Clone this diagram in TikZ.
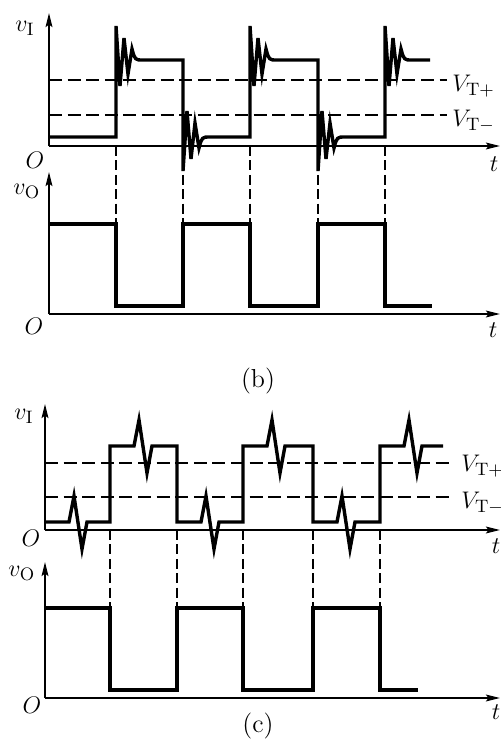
\documentclass[tikz,border=0pt]{standalone}
\usepackage{tikz}
\usetikzlibrary{arrows.meta}

\begin{document}
\begin{tikzpicture}[x=0.5pt, y=-0.5pt,
  axis/.style={line width=0.9pt, -{Stealth[length=7pt,width=3.4pt,inset=1.2pt]}},
  wave/.style={line width=1.7pt},
  level/.style={line width=0.9pt, dash pattern=on 6.5pt off 2.8pt},
  guide/.style={line width=0.6pt, dash pattern=on 5pt off 2.2pt},
  lbl/.style={inner sep=0pt, font=\fontsize{13}{15}\selectfont}
]
\useasboundingbox (0,0) rectangle (501,740);

% ---- (b): input with ringing ----
\coordinate (O1) at (49,146);
\coordinate (Y1) at (49,13);
\coordinate (X1) at (500,146);
\draw[axis] (O1) -- (Y1);
\draw[axis] (O1) -- (X1);
\coordinate (tp1) at (49,80);  \coordinate (tp1e) at (447,80);
\coordinate (tm1) at (49,115); \coordinate (tm1e) at (447,115);
\draw[level] (tp1) -- (tp1e);
\draw[level] (tm1) -- (tm1e);
\draw[wave] (49,137)
  \foreach \e/\a/\b/\s in {116/137/60/-1, 183/60/137/1, 250/137/60/-1, 318/60/137/1, 385/137/60/-1}{
    -- (\e,\a) -- (\e,{\b+34*\s}) -- ({\e+4},{\b-26*\s}) -- ({\e+8},{\b+22*\s})
    -- ({\e+12},{\b-14*\s}) -- ({\e+16},{\b+11*\s})
    .. controls ({\e+19},\b) .. ({\e+27},\b)
  } -- (430,60);
\node[lbl, anchor=base west] (vI1) at (15,31) {$v_{\mathrm{I}}$};
\node[lbl] (o1) at (35,160) {$O$};
\node[lbl] (t1) at (494,164) {$t$};
\node[lbl, anchor=base west] (vtp1) at (452,91) {$V_{\mathrm{T+}}$};
\node[lbl, anchor=base west] (vtm1) at (452,126) {$V_{\mathrm{T-}}$};

% ---- (b): output ----
\coordinate (O2) at (49,314);
\coordinate (Y2) at (49,172);
\coordinate (X2) at (500,314);
\draw[axis] (O2) -- (Y2);
\draw[axis] (O2) -- (X2);
\draw[wave] (49,224)
  \foreach \s/\e/\l in {49/116/224, 116/183/306, 183/250/224, 250/318/306, 318/385/224, 385/432/306}{
    -- (\s,\l) -- (\e,\l)
  };
\foreach \e in {116,183,250,318,385}
  \draw[guide] (\e,146) -- (\e,224);
\node[lbl, anchor=base west] (vO1) at (13,194) {$v_{\mathrm{O}}$};
\node[lbl] (o2) at (34,326) {$O$};
\node[lbl] (t2) at (493,330) {$t$};
\node[lbl] (capb) at (258,381) {(b)};

% ---- (c): input with glitches ----
\coordinate (O3) at (45,530);
\coordinate (Y3) at (45,404);
\coordinate (X3) at (500,530);
\draw[axis] (O3) -- (Y3);
\draw[axis] (O3) -- (X3);
\coordinate (tp3) at (45,463);  \coordinate (tp3e) at (453,463);
\coordinate (tm3) at (45,497);  \coordinate (tm3e) at (453,497);
\draw[level] (tp3) -- (tp3e);
\draw[level] (tm3) -- (tm3e);
\draw[wave] (45,522)
  \foreach \s/\e/\l in {45/110/522, 110/177/446, 177/243/522, 243/313/446, 313/380/522, 380/443/446}{
    -- (\s,\l) -- ({\s+24},\l) -- ({\s+29},{\l-26}) -- ({\s+37},{\l+27}) -- ({\s+42},\l) -- (\e,\l)
  };
\node[lbl, anchor=base west] (vI3) at (14,419) {$v_{\mathrm{I}}$};
\node[lbl] (o3) at (31,538) {$O$};
\node[lbl] (t3) at (496,546) {$t$};
\node[lbl, anchor=base west] (vtp3) at (461,471) {$V_{\mathrm{T+}}$};
\node[lbl, anchor=base west] (vtm3) at (461,508) {$V_{\mathrm{T-}}$};

% ---- (c): output ----
\coordinate (O4) at (45,698);
\coordinate (Y4) at (45,562);
\coordinate (X4) at (500,698);
\draw[axis] (O4) -- (Y4);
\draw[axis] (O4) -- (X4);
\draw[wave] (45,608)
  \foreach \s/\e/\l in {45/110/608, 110/177/690, 177/243/608, 243/313/690, 313/380/608, 380/418/690}{
    -- (\s,\l) -- (\e,\l)
  };
\foreach \e in {110,177,243,313,380}
  \draw[guide] (\e,530) -- (\e,608);
\node[lbl, anchor=base west] (vO3) at (8,576) {$v_{\mathrm{O}}$};
\node[lbl] (o4) at (32,705) {$O$};
\node[lbl] (t4) at (496,712) {$t$};
\node[lbl] (capc) at (258,726) {(c)};
\end{tikzpicture}
\end{document}
